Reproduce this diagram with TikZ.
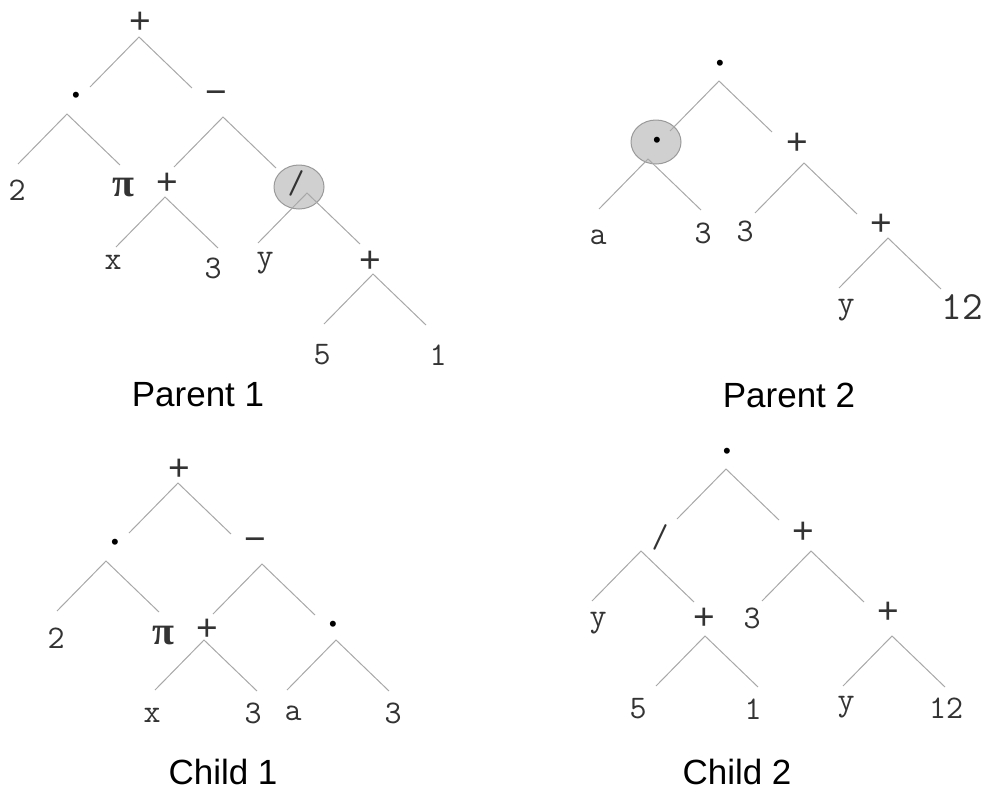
\documentclass[tikz,border=0pt]{standalone}
\usepackage{fontspec}
\newfontfamily\capfont{Liberation Sans}
\newfontfamily\pifont{Liberation Serif}
\definecolor{legcol}{HTML}{A8A8A8}
\definecolor{txtcol}{HTML}{333333}
\definecolor{hlfill}{HTML}{D0D0D0}
\definecolor{hldraw}{HTML}{9A9A9A}
\tikzset{
  lbl/.style={inner sep=0pt, text=txtcol, font=\ttfamily\fontsize{33}{33}\selectfont},
  op/.style={lbl, font=\capfont\fontsize{37}{37}\selectfont},
  dotop/.style={lbl, text=black, font=\capfont\fontsize{22}{22}\selectfont},
  pisym/.style={lbl, font=\pifont\bfseries\fontsize{40}{40}\selectfont},
  big/.style={lbl, font=\ttfamily\fontsize{40}{40}\selectfont},
  treename/.style={inner sep=0pt, font=\capfont\fontsize{35}{35}\selectfont},
  leg/.style={draw=legcol, line width=1pt},
  hl/.style={fill=hlfill, draw=hldraw, line width=1pt}
}
\begin{document}
\begin{tikzpicture}[x=1pt, y=-1pt]
  \useasboundingbox (0,0) rectangle (992,804);

  % Highlighted subtrees
  \draw[hl] (299,187) ellipse [x radius=25pt, y radius=22pt];
  \draw[hl] (656,142) ellipse [x radius=25pt, y radius=22pt];

  % Branch points
  \coordinate (p1a) at (139,37);
  \coordinate (p1b) at (67,114);
  \coordinate (p1c) at (223,117);
  \coordinate (p1d) at (165,197);
  \coordinate (p1e) at (307,193);
  \coordinate (p1f) at (373,274);
  \coordinate (p2a) at (719,81);
  \coordinate (p2b) at (648,159);
  \coordinate (p2c) at (804,163);
  \coordinate (p2d) at (888,238);
  \coordinate (c1a) at (178,483);
  \coordinate (c1b) at (106,561);
  \coordinate (c1c) at (262,564);
  \coordinate (c1d) at (204,640);
  \coordinate (c1e) at (336,640);
  \coordinate (c2a) at (726,469);
  \coordinate (c2b) at (641,551);
  \coordinate (c2c) at (705,636);
  \coordinate (c2d) at (811,551);
  \coordinate (c2e) at (892,636);

  % Branches
  \foreach \a in {p1a,p1b,p1c,p1d,p1e,p1f,p2a,p2b,p2c,p2d,c1a,c1b,c1c,c1d,c1e,c2a,c2b,c2c,c2d,c2e}
    \draw[leg] ([shift={(-49,50)}]\a) -- (\a) -- ([shift={(53,51)}]\a);

  % Parent 1
  \node[op] (p1plus) at (140,23) {+};
  \node[dotop] (p1dot) at (76,97) {•};
  \node[op] (p1minus) at (216,98) {−};
  \node[lbl] (p1two) at (17,190) {2};
  \node[pisym] (p1pi) at (123,188) {π};
  \node[op] (p1plusb) at (167,184) {+};
  \node[lbl] (p1x) at (113,262) {x};
  \node[lbl] (p1three) at (213,268) {3};
  \node[lbl] (p1slash) at (296,183) {/};
  \node[lbl] (p1y) at (265,263) {y};
  \node[op] (p1plusc) at (370,262) {+};
  \node[lbl] (p1five) at (322,355) {5};
  \node[lbl] (p1one) at (438,355) {1};
  \node[treename] (p1name) at (198,395) {Parent 1};

  % Parent 2
  \node[dotop] (p2dot) at (720,65) {•};
  \node[dotop] (p2dotb) at (657,142) {•};
  \node[lbl] (p2a) at (598,237) {a};
  \node[lbl] (p2three) at (703,233) {3};
  \node[op] (p2plus) at (797,144) {+};
  \node[lbl] (p2threeb) at (745,231) {3};
  \node[op] (p2plusb) at (881,225) {+};
  \node[lbl] (p2y) at (846,310) {y};
  \node[big] (p2twelve) at (962,307) {12};
  \node[treename] (p2name) at (789,395) {Parent 2};

  % Child 1
  \node[op] (c1plus) at (179,470) {+};
  \node[dotop] (c1dot) at (115,544) {•};
  \node[op] (c1minus) at (255,545) {−};
  \node[lbl] (c1two) at (56,638) {2};
  \node[pisym] (c1pi) at (163,636) {π};
  \node[op] (c1plusb) at (207,630) {+};
  \node[lbl] (c1x) at (152,715) {x};
  \node[lbl] (c1three) at (253,713) {3};
  \node[dotop] (c1dotb) at (333,626) {•};
  \node[lbl] (c1a) at (293,713) {a};
  \node[lbl] (c1threeb) at (393,713) {3};
  \node[treename] (c1name) at (223,772) {Child 1};

  % Child 2
  \node[dotop] (c2dot) at (727,453) {•};
  \node[lbl] (c2slash) at (660,537) {/};
  \node[lbl] (c2y) at (598,623) {y};
  \node[op] (c2plus) at (704,619) {+};
  \node[lbl] (c2five) at (638,709) {5};
  \node[lbl] (c2one) at (753,709) {1};
  \node[op] (c2plusb) at (803,533) {+};
  \node[lbl] (c2three) at (752,618) {3};
  \node[op] (c2plusc) at (888,613) {+};
  \node[lbl] (c2yb) at (846,707) {y};
  \node[lbl] (c2twelve) at (946,708) {12};
  \node[treename] (c2name) at (737,772) {Child 2};
\end{tikzpicture}
\end{document}
